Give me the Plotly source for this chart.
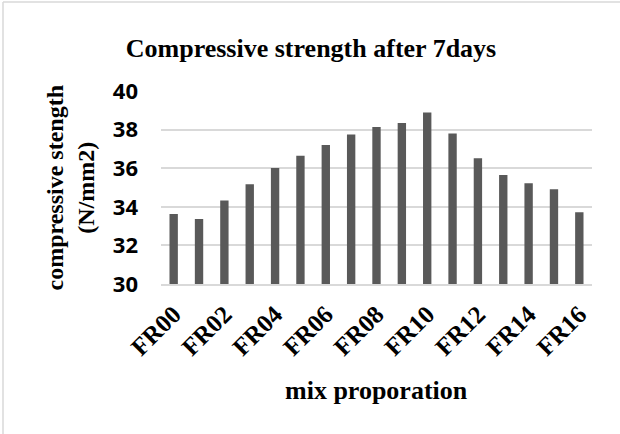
import plotly.graph_objects as go

categories = ["FR%02d" % i for i in range(17)]
strength = [33.63, 33.37, 34.32, 35.17, 36.01, 36.65, 37.20, 37.75, 38.13,
            38.34, 38.89, 37.80, 36.51, 35.65, 35.22, 34.91, 33.72]
tick_labels = categories[::2]
y_ticks = [30, 32, 34, 36, 38, 40]

serif = "Liberation Serif, Times New Roman, serif"
sans = "Open Sans, Liberation Sans, sans-serif"

fig = go.Figure(go.Bar(x=categories, y=strength, marker_color="#595959",
                       marker_line_width=0, width=0.33))

L, R, T, B = 161, 28, 91, 150
W, H = 620, 434
pw, ph = W - L - R, H - T - B

fig.update_layout(
    width=W, height=H,
    margin=dict(l=L, r=R, t=T, b=B),
    paper_bgcolor="white", plot_bgcolor="white",
    showlegend=False,
    title=dict(text="<b>Compressive strength after 7days</b>",
               font=dict(family=serif, size=26, color="black"),
               x=311 / W, xanchor="center", y=1 - 48 / H, yanchor="middle"),
    xaxis=dict(tickmode="array", tickvals=tick_labels, ticktext=["<b>%s</b>" % t for t in tick_labels],
               tickangle=-45, tickfont=dict(family=serif, size=25, color="black"),
               showgrid=False, showline=True, linecolor="#d9d9d9", linewidth=1.5,
               ticks="", ticklabelstandoff=4),
    yaxis=dict(range=[30, 40], tickvals=y_ticks, ticktext=["<b>%d</b>" % v for v in y_ticks],
               tickfont=dict(family=sans, size=22, color="black"),
               showgrid=True, gridcolor="#d9d9d9", gridwidth=1.5, zeroline=False,
               ticklabelstandoff=22),
    annotations=[
        dict(text="<b>mix proporation</b>", xref="paper", yref="paper",
             x=0.5, y=-(390 - (H - B)) / ph, xanchor="center", yanchor="middle",
             showarrow=False, font=dict(family=serif, size=26, color="black")),
        dict(text="<b>compressive stength<br>(N/mm2)</b>", xref="paper", yref="paper",
             x=(70 - L) / pw, y=0.5, xanchor="center", yanchor="middle", textangle=-90,
             showarrow=False, font=dict(family=serif, size=24, color="black")),
    ],
    shapes=[
        dict(type="line", xref="paper", yref="paper", x0=(3 - L) / pw, x1=1 + (R + 5) / pw,
             y0=(H - B - 2) / ph, y1=(H - B - 2) / ph, line=dict(color="#d9d9d9", width=1.5)),
        dict(type="line", xref="paper", yref="paper", x0=(3 - L) / pw, x1=(3 - L) / pw,
             y0=-(B + 5) / ph, y1=(H - B - 2) / ph, line=dict(color="#d9d9d9", width=1.5)),
    ],
)

fig.write_html("out.html")
